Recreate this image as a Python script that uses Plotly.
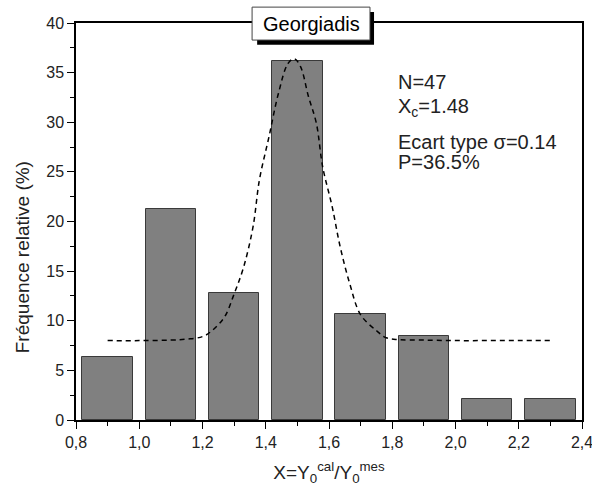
import plotly.graph_objects as go

# Data
bin_centers = [0.9, 1.1, 1.3, 1.5, 1.7, 1.9, 2.1, 2.3]
freq = [6.38, 21.28, 12.77, 36.17, 10.64, 8.51, 2.13, 2.13]

fit_x = [0.90, 1.00, 1.10, 1.15, 1.20, 1.23, 1.27, 1.30, 1.33, 1.36, 1.38, 1.41, 1.44, 1.47,
         1.49, 1.51, 1.535, 1.56, 1.58, 1.61, 1.635, 1.665, 1.70, 1.75, 1.78, 1.82, 1.90,
         2.00, 2.10, 2.20, 2.30]
fit_y = [8.0, 8.0, 8.05, 8.15, 8.4, 9.0, 10.4, 12.7, 15.4, 19.5, 24.2, 28.5, 32.9, 35.9,
         36.4, 35.6, 32.6, 29.9, 25.5, 21.5, 17.5, 13.8, 10.6, 9.0, 8.3, 8.1, 8.05,
         8.0, 8.0, 8.0, 8.0]

x_tickvals = [0.8, 1.0, 1.2, 1.4, 1.6, 1.8, 2.0, 2.2, 2.4]
x_ticktext = ["0,8", "1,0", "1,2", "1,4", "1,6", "1,8", "2,0", "2,2", "2,4"]
y_tickvals = [0, 5, 10, 15, 20, 25, 30, 35, 40]

title_text = "Georgiadis"
y_title = "Fréquence relative (%)"
x_title = "X=Y<sub>0</sub><sup>cal</sup>/Y<sub>0</sub><sup>mes</sup>"
stats_lines = ["N=47", "X<sub>c</sub>=1.48", "Ecart type σ=0.14", "P=36.5%"]

FONT = "Liberation Sans, Arial, sans-serif"

fig = go.Figure()
fig.add_trace(go.Bar(
    x=bin_centers, y=freq, width=0.16,
    marker=dict(color="#808080", line=dict(color="#3a3a3a", width=1)),
    showlegend=False,
))
fig.add_trace(go.Scatter(
    x=fit_x, y=fit_y, mode="lines", line=dict(color="black", width=1.5, dash="5px,4px", shape="spline"),
    showlegend=False,
))

axis_common = dict(
    showline=True, linecolor="black", linewidth=1.5, mirror=True,
    ticks="outside", ticklen=7, tickwidth=1.2, tickcolor="black",
    showgrid=False, zeroline=False, automargin=False,
    ticklabeloverflow="allow",
    tickfont=dict(family=FONT, size=16, color="#222"),
)
fig.update_xaxes(
    range=[0.8, 2.4], tickvals=x_tickvals, ticktext=x_ticktext,
    minor=dict(ticks="outside", ticklen=4, dtick=0.1, tick0=0.8, tickcolor="black", tickwidth=1.2),
    title=dict(text=x_title, font=dict(family=FONT, size=19, color="#222"), standoff=16),
    **axis_common,
)
fig.update_yaxes(
    range=[0, 40], tickvals=y_tickvals,
    minor=dict(ticks="outside", ticklen=4, dtick=2.5, tick0=0, tickcolor="black", tickwidth=1.2),
    **axis_common,
)

# y-axis title (placed slightly below centre as in the reference)
fig.add_annotation(xref="paper", yref="paper", x=-0.1067, y=0.41, text=y_title,
                   textangle=-90, showarrow=False,
                   font=dict(family=FONT, size=19, color="#222"),
                   xanchor="center", yanchor="middle")

# Title box with shadow
fig.add_shape(type="rect", xref="paper", yref="paper",
              x0=0.358, x1=0.589, y0=0.945, y1=1.028,
              fillcolor="black", line=dict(width=0), layer="above")
fig.add_shape(type="rect", xref="paper", yref="paper",
              x0=0.348, x1=0.581, y0=0.957, y1=1.040,
              fillcolor="white", line=dict(color="#444", width=1), layer="above")
fig.add_annotation(xref="paper", yref="paper", x=0.4645, y=0.9985, text=title_text,
                   showarrow=False, font=dict(family=FONT, size=20, color="black"),
                   xanchor="center", yanchor="middle")

stat_y = [0.851, 0.788, 0.700, 0.650]
for txt, yy in zip(stats_lines, stat_y):
    fig.add_annotation(xref="paper", yref="paper", x=0.632, y=yy, text=txt,
                       showarrow=False, font=dict(family=FONT, size=20, color="#222"),
                       xanchor="left", yanchor="middle")

fig.update_layout(
    width=592, height=486,
    margin=dict(l=76, r=10, t=23, b=66),
    paper_bgcolor="white", plot_bgcolor="white",
    bargap=0,
)
fig.write_html("out.html", config={"displayModeBar": False},
               post_script="document.body.style.margin='0';document.body.style.overflow='hidden';")
